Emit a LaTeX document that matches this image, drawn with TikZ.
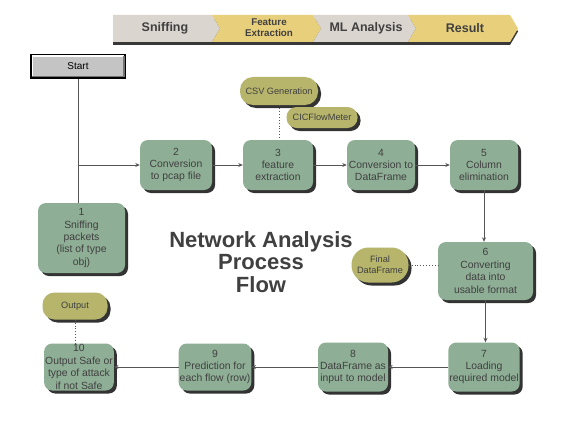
\documentclass[tikz,border=0pt]{standalone}
\usepackage{fontspec}
\setmainfont{Liberation Sans}
\usetikzlibrary{arrows.meta,shadows}

\definecolor{sage}{HTML}{8FAE96}
\definecolor{olive}{HTML}{B7B56C}
\definecolor{ink}{HTML}{404040}
\definecolor{wire}{HTML}{555555}
\definecolor{stone}{HTML}{DAD5CF}
\definecolor{sand}{HTML}{E8CF7C}

\begin{document}
\begin{tikzpicture}[x=1pt, y=-1pt,
    process/.style={rectangle, rounded corners=8pt, fill=sage, text=ink, align=center,
        font=\fontsize{10.4}{12.4}\selectfont, inner sep=1pt,
        drop shadow={shadow xshift=3pt, shadow yshift=-3pt, fill=black!80, opacity=1}},
    tag/.style={rectangle, fill=olive, text=ink, align=center,
        font=\fontsize{9.2}{11}\selectfont, inner sep=2pt,
        drop shadow={shadow xshift=3pt, shadow yshift=-3pt, fill=black!80, opacity=1}},
    phase/.style={text=ink, align=center, font=\bfseries\fontsize{12.5}{13}\selectfont},
    flow/.style={draw=wire, line width=0.8pt},
    arrow/.style={flow, -{Stealth[length=4.5pt, width=4pt]}},
    link/.style={draw=wire, line width=0.9pt, dotted}
]
\fill[white] (0,0) rectangle (577,433);
\useasboundingbox (0,0) rectangle (577,433);

% phase bar
\fill[black!78] (113,18) -- (510,18) -- (518,31.5) -- (510,45) -- (113,45) -- cycle;
\fill[stone] (113,15) -- (212,15) -- (220,28.5) -- (212,42) -- (113,42) -- cycle;
\fill[sand] (212,15) -- (313,15) -- (321,28.5) -- (313,42) -- (212,42) -- (220,28.5) -- cycle;
\fill[stone] (313,15) -- (408,15) -- (416,28.5) -- (408,42) -- (313,42) -- (321,28.5) -- cycle;
\fill[sand] (408,15) -- (510,15) -- (518,28.5) -- (510,42) -- (408,42) -- (416,28.5) -- cycle;
\node[phase] (ph1) at (165,28) {Sniffing};
\node[phase, font=\bfseries\fontsize{9.8}{11.5}\selectfont] (ph2) at (269,27.5) {Feature\\Extraction};
\node[phase] (ph3) at (366,28) {ML Analysis};
\node[phase] (ph4) at (465,28) {Result};

% start button
\node[draw=black, line width=1.8pt, fill=black!23, minimum width=94pt, minimum height=23pt,
    font=\fontsize{10}{12}\selectfont] (start) at (78,66.5) {Start};
\draw[white, line width=1.2pt] ([xshift=2pt, yshift=2pt]start.south west) -- ([xshift=2pt, yshift=-2pt]start.north west) -- ([xshift=-2pt, yshift=-2pt]start.north east);
\draw[black!55, line width=1.2pt] ([xshift=2pt, yshift=2pt]start.south west) -- ([xshift=-2pt, yshift=2pt]start.south east) -- ([xshift=-2pt, yshift=-2pt]start.north east);

% steps
\node[process, minimum width=87pt, minimum height=70pt] (s1) at (81.5,238) {1\\Sniffing\\packets\\(list of type\\obj)};
\node[process, minimum width=72pt, minimum height=50pt] (s2) at (176,165) {2\\Conversion\\to pcap file};
\node[process, minimum width=70pt, minimum height=50pt] (s3) at (278,165) {3\\feature\\extraction};
\node[process, minimum width=68pt, minimum height=50pt] (s4) at (381,165) {4\\Conversion to\\DataFrame};
\node[process, minimum width=68pt, minimum height=50pt] (s5) at (484,165) {5\\Column\\elimination};
\node[process, minimum width=95pt, minimum height=58pt] (s6) at (485.5,271) {6\\Converting\\data into\\usable format};
\node[process, minimum width=68pt, minimum height=49pt] (s7) at (484,367) {7\\Loading\\required model};
\node[process, minimum width=70pt, minimum height=49pt] (s8) at (353,367) {8\\DataFrame as\\input to model};
\node[process, minimum width=70pt, minimum height=47pt] (s9) at (215,367) {9\\Prediction for\\each flow (row)};
\node[process, minimum width=68pt, minimum height=47pt] (s10) at (79,367) {10\\Output Safe or\\type of attack\\if not Safe};

% side notes
\node[tag, rounded corners=13pt, minimum width=78pt, minimum height=28pt] (csv) at (279,91) {CSV Generation};
\node[tag, rounded corners=10pt, minimum width=71pt, minimum height=21pt] (cic) at (322,117.5) {CICFlowMeter};
\node[tag, rounded corners=17pt, minimum width=57pt, minimum height=35pt] (final) at (380,265) {Final\\DataFrame};
\node[tag, rounded corners=12pt, minimum width=65pt, minimum height=27pt] (out) at (75,306) {Output};

% title
\node[text=ink, align=center, font=\bfseries\fontsize{22}{22.5}\selectfont] (heading) at (261,262) {Network Analysis\\Process\\Flow};

% connectors
\coordinate (split) at (start |- s2);
\draw[flow] (start) -- (start |- s1.north);
\draw[arrow] (split) -- (s2);
\draw[arrow] (s2) -- (s3);
\draw[arrow] (s3) -- (s4);
\draw[arrow] (s4) -- (s5);
\draw[arrow] (s5) -- (s5 |- s6.north);
\draw[arrow] (s6) -- (s6 |- s7.north);
\draw[arrow] (s7) -- (s8);
\draw[arrow] (s8) -- (s9);
\draw[arrow] (s9) -- (s10);

\draw[link] (csv) -- (csv |- s3.north);
\draw[link] (final) -- (final -| s6.west);
\draw[link] (out) -- (out |- s10.north);
\end{tikzpicture}
\end{document}
